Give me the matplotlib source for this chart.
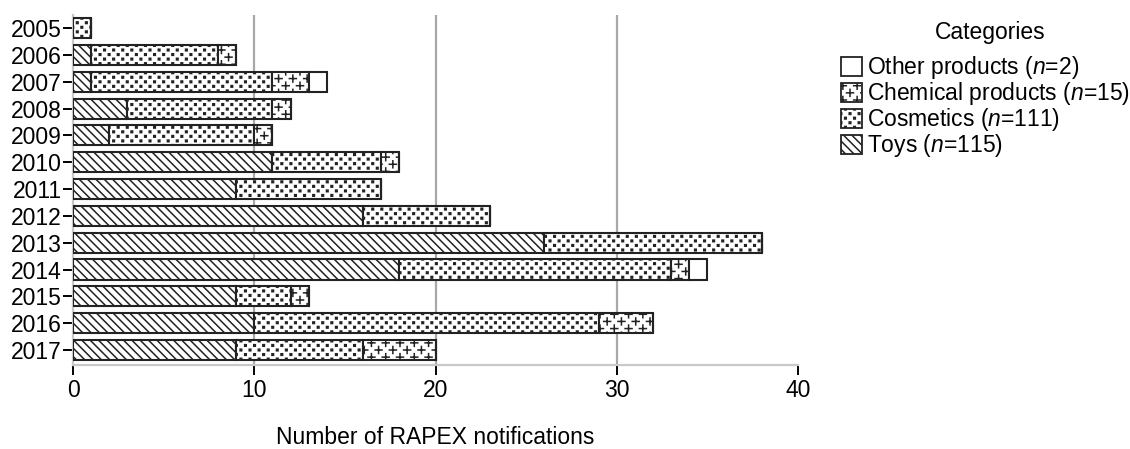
import numpy as np
import matplotlib
matplotlib.use("Agg")
import matplotlib.pyplot as plt
import matplotlib.hatch as mhatch
from matplotlib.path import Path
from matplotlib.patches import Patch


# ---- custom staggered hatch patterns: '*' small plus signs, '.' small dots ----
class StaggerPattern(mhatch.HatchPatternBase):
    def __init__(self, hatch, density):
        self.items = []
        if '*' in hatch:
            self._grid(7, 'plus', 0.035)
        if '.' in hatch:
            self._grid(11, 'dot', 0.008)
        self.num_vertices = sum(4 if k == 'plus' else 5 for k, *_ in self.items)

    def _grid(self, m, kind, r):
        nrows = 2 * m
        for j in range(nrows + 1):
            yy = j / nrows
            shift = 0.5 if j % 2 else 0.0
            for k in range(-1, m + 2):
                xx = (k + shift) / m
                self.items.append((kind, xx, yy, r))

    def set_vertices_and_codes(self, vertices, codes):
        c = 0
        for kind, x, y, r in self.items:
            if kind == 'plus':
                vertices[c:c + 4] = [[x - r, y], [x + r, y], [x, y - r], [x, y + r]]
                codes[c:c + 4] = [Path.MOVETO, Path.LINETO, Path.MOVETO, Path.LINETO]
                c += 4
            else:
                vertices[c:c + 5] = [[x - r, y - r], [x + r, y - r], [x + r, y + r],
                                     [x - r, y + r], [x - r, y - r]]
                codes[c:c + 5] = [Path.MOVETO, Path.LINETO, Path.LINETO,
                                  Path.LINETO, Path.CLOSEPOLY]
                c += 5


mhatch._hatch_types = [t for t in mhatch._hatch_types
                       if t not in (mhatch.Stars, mhatch.SmallFilledCircles)] + [StaggerPattern]

plt.rcParams['font.family'] = ['Liberation Sans', 'DejaVu Sans']
plt.rcParams['mathtext.fontset'] = 'custom'
plt.rcParams['mathtext.rm'] = 'Liberation Sans'
plt.rcParams['mathtext.it'] = 'Liberation Sans:italic'
plt.rcParams['hatch.linewidth'] = 1.1
plt.rcParams['hatch.color'] = 'black'

# ---- data ----
years = ['2005', '2006', '2007', '2008', '2009', '2010', '2011',
         '2012', '2013', '2014', '2015', '2016', '2017']
toys = [0, 1, 1, 3, 2, 11, 9, 16, 26, 18, 9, 10, 9]
cosmetics = [1, 7, 10, 8, 8, 6, 8, 7, 12, 15, 3, 19, 7]
chemical = [0, 1, 2, 1, 1, 1, 0, 0, 0, 1, 1, 3, 4]
other = [0, 0, 1, 0, 0, 0, 0, 0, 0, 1, 0, 0, 0]
xticks = [0, 10, 20, 30, 40]

series = [
    ('Toys', toys, '\\\\\\\\', 115),
    ('Cosmetics', cosmetics, '.', 111),
    ('Chemical products', chemical, '*', 15),
    ('Other products', other, '', 2),
]

FS = 16.5

fig = plt.figure(figsize=(11.3, 4.49), dpi=100)
ax = fig.add_axes([73/1130, 1-365/449, (798-73)/1130, (365-15)/449])

y = np.arange(len(years))
left = np.zeros(len(years))
handles = []
for name, vals, hatch, n in series:
    vals = np.array(vals, dtype=float)
    ax.barh(y, vals, left=left, height=0.75, color='white', edgecolor='#222222',
            linewidth=1.5, hatch=hatch, zorder=3)
    left = left + vals
    handles.append(Patch(facecolor='white', edgecolor='#222222', linewidth=1.3,
                         hatch=hatch, label=f'{name} ($\\it{{n}}$={n})'))

ax.set_xlim(0, 40)
ax.set_ylim(len(years) - 1 + 0.56, -0.49)
ax.set_yticks(y)
ax.set_yticklabels(years)
ax.set_xticks(xticks)
ax.set_xticklabels([str(t) for t in xticks])

for t in [10, 20, 30]:
    ax.axvline(t, color='#a8a8a8', linewidth=1.6, zorder=1)

for s in ['top', 'right']:
    ax.spines[s].set_visible(False)
for s in ['left', 'bottom']:
    ax.spines[s].set_color('#c8c8c8')
    ax.spines[s].set_linewidth(1.6)

ax.tick_params(axis='both', labelsize=FS, colors='black', length=7, width=1.4)
ax.tick_params(axis='x', pad=3)
ax.tick_params(axis='y', pad=1)

ax.set_xlabel('Number of RAPEX notifications', fontsize=FS, labelpad=17.5)

fig.text(990/1130, 1-33/449, 'Categories', fontsize=FS, ha='center', va='center')
leg = fig.legend(handles=handles[::-1], loc='upper left',
                 bbox_to_anchor=(841/1130, 1-54/449), frameon=False,
                 fontsize=FS,
                 handlelength=0.9, handleheight=0.9, handletextpad=0.25,
                 labelspacing=-0.04, borderpad=0, borderaxespad=0)

fig.savefig('out.png', dpi=100)
